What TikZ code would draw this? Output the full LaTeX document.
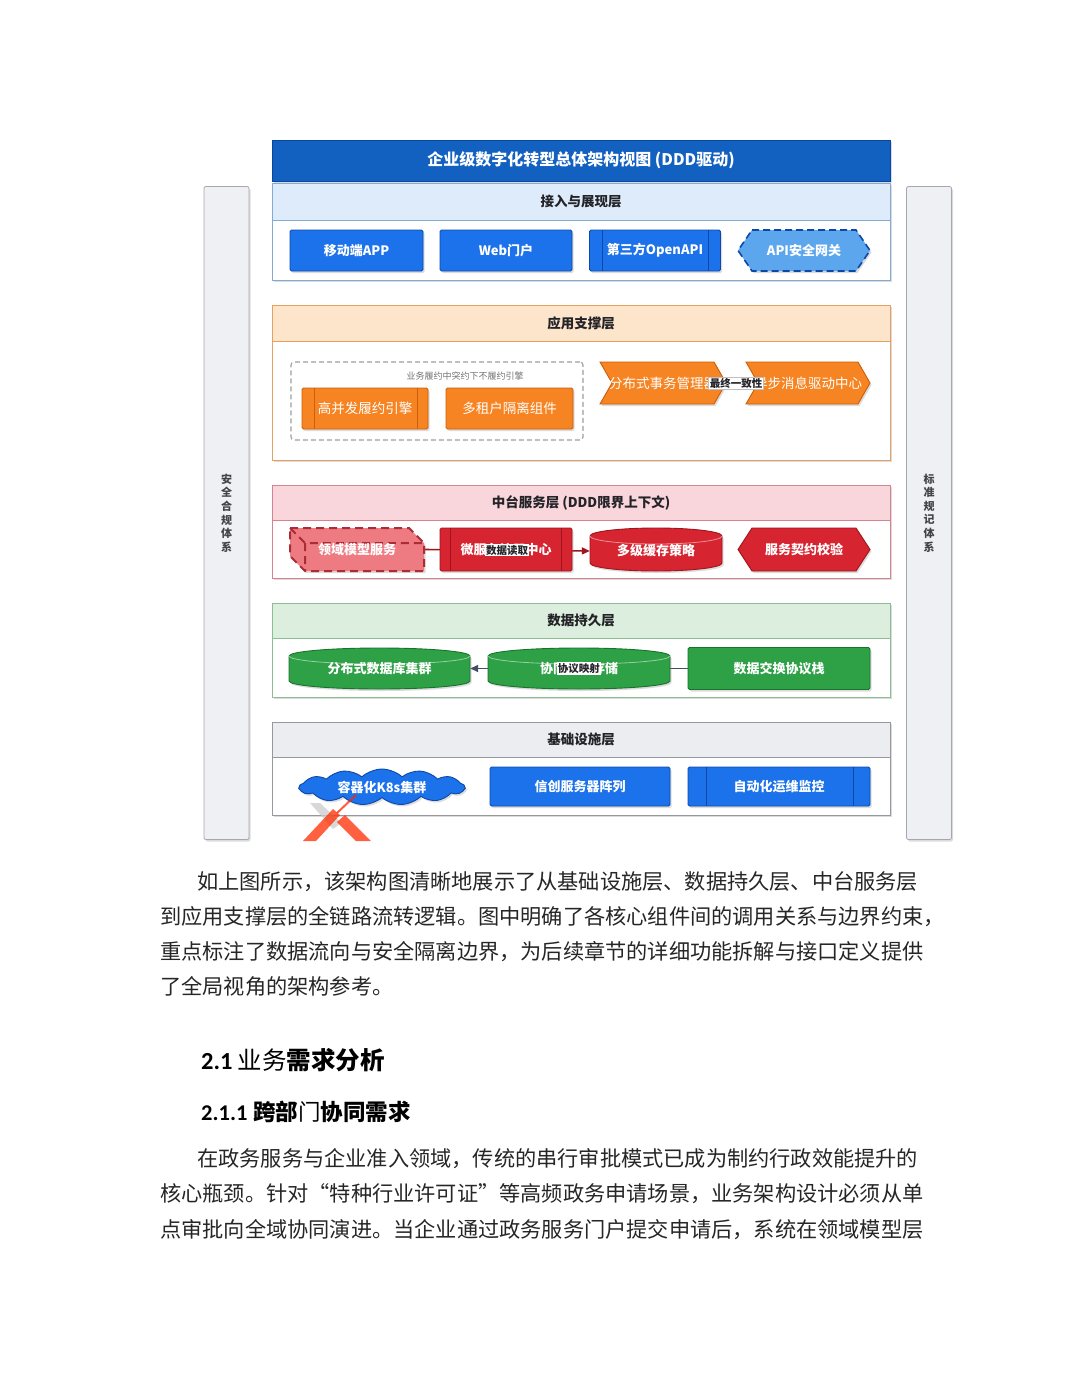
\documentclass[tikz,border=0pt]{standalone}
\usepackage{fontspec}
\setmainfont{Liberation Sans}
\newfontfamily\cjk{Noto Sans CJK SC}
\newfontfamily\song{Noto Sans CJK SC}
\newfontfamily\cali{Carlito}
\usetikzlibrary{shapes.geometric,shapes.symbols,shadows,arrows.meta,calc}
\pgfdeclarelayer{bg}
\pgfdeclarelayer{frames}
\pgfdeclarelayer{edges}
\pgfdeclarelayer{shapes}
\pgfsetlayers{bg,frames,edges,shapes,main}

\definecolor{titleblue}{RGB}{18,96,192}
\definecolor{titlebd}{RGB}{10,70,160}
\definecolor{bblue}{RGB}{28,114,234}
\definecolor{bblueD}{RGB}{12,72,170}
\definecolor{lblue}{RGB}{92,166,238}
\definecolor{hdblue}{RGB}{222,235,250}
\definecolor{bdblue}{RGB}{130,170,215}
\definecolor{borange}{RGB}{246,132,34}
\definecolor{borangeD}{RGB}{205,95,10}
\definecolor{hdorange}{RGB}{253,229,204}
\definecolor{bdorange}{RGB}{230,160,95}
\definecolor{bred}{RGB}{214,36,48}
\definecolor{bredD}{RGB}{160,20,30}
\definecolor{lred}{RGB}{238,122,130}
\definecolor{hdpink}{RGB}{248,214,220}
\definecolor{bdpink}{RGB}{215,130,145}
\definecolor{bgreen}{RGB}{46,160,70}
\definecolor{bgreenD}{RGB}{25,115,45}
\definecolor{hdgreen}{RGB}{220,239,222}
\definecolor{bdgreen}{RGB}{140,190,145}
\definecolor{hdgray}{RGB}{236,237,240}
\definecolor{bdgray}{RGB}{150,152,158}
\definecolor{sidefill}{RGB}{238,240,244}
\definecolor{sidebd}{RGB}{165,168,175}
\definecolor{txtdark}{RGB}{35,35,40}
\definecolor{edgegray}{RGB}{70,78,100}

\newcommand\hexshape[6]{\path[#6] ({#1+#5},#2) -- ({#3-#5},#2) -- (#3,{(#2+#4)/2}) -- ({#3-#5},#4) -- ({#1+#5},#4) -- (#1,{(#2+#4)/2}) -- cycle;}
\newcommand\stepshape[6]{\path[#6] (#1,#2) -- ({#3-#5},#2) -- (#3,{(#2+#4)/2}) -- ({#3-#5},#4) -- (#1,#4) -- ({#1+#5},{(#2+#4)/2}) -- cycle;}
\newcommand\cylshape[6]{%
  \pgfmathsetmacro\myrx{(#3-#1)/2}%
  \path[#6] (#1,{#2+#5}) arc[start angle=180,end angle=360,x radius=\myrx,y radius=#5] -- (#3,{#4-#5}) arc[start angle=0,end angle=180,x radius=\myrx,y radius=#5] -- cycle;
  \draw[white,opacity=0.5,line width=0.8pt] (#1,{#2+#5}) arc[start angle=180,end angle=0,x radius=\myrx,y radius=#5];}
\newcommand\cubeshape[5]{%
  \path[cubefill] (#1,#2) -- ({#3-#5},#2) -- (#3,{#2+#5}) -- (#3,#4) -- ({#1+#5},#4) -- (#1,{#4-#5}) -- cycle;
  \draw[cubeline] (#1,#2) -- ({#1+#5},{#2+#5}) -- (#3,{#2+#5}) ({#1+#5},{#2+#5}) -- ({#1+#5},#4);}

\tikzset{
  shd/.style={drop shadow={shadow xshift=1.5pt,shadow yshift=-2pt,opacity=0.28}},
  boxtxt/.style={font=\cjk\bfseries\fontsize{13}{16}\selectfont,text=white,inner sep=0pt},
  boxtxtr/.style={font=\cjk\fontsize{13.5}{16}\selectfont,text=white,inner sep=0pt},
  bluebox/.style={rectangle,rounded corners=1.5pt,fill=bblue,draw=bblueD,line width=0.9pt,shd,boxtxt,minimum height=41pt},
  orangebox/.style={rectangle,rounded corners=1.5pt,fill=borange,draw=borangeD,line width=0.9pt,shd,boxtxtr,minimum height=41pt},
  redbox/.style={rectangle,rounded corners=1.5pt,fill=bred,draw=bredD,line width=0.9pt,shd,boxtxt,minimum height=43pt},
  greenbox/.style={rectangle,rounded corners=1.5pt,fill=bgreen,draw=bgreenD,line width=0.9pt,shd,boxtxt,minimum height=42pt},
  layerbody/.style={draw=#1,line width=0.9pt,fill=white,shd},
  layerhead/.style={draw=#1,line width=0.9pt,minimum width=618pt,inner sep=0pt,font=\cjk\bfseries\fontsize{13.5}{16}\selectfont,text=txtdark},
  titlebar/.style={fill=titleblue,draw=titlebd,line width=1pt,minimum width=618pt,minimum height=41pt,inner sep=0pt,font=\cjk\bfseries\fontsize{16}{19}\selectfont,text=white,shd},
  sidebar/.style={fill=sidefill,draw=sidebd,line width=0.8pt,rounded corners=2pt,shd,minimum width=45pt,minimum height=653pt,inner sep=0pt,font=\cjk\bfseries\fontsize{11}{13.6}\selectfont,text=txtdark!85,align=center},
  apihex/.style={fill=lblue,draw=bblueD,line width=1.6pt,dash pattern=on 7pt off 4pt,shd},
  orgstep/.style={fill=borange,draw=borangeD,line width=0.9pt,shd},
  redhex/.style={fill=bred,draw=bredD,line width=0.9pt,shd},
  redcyl/.style={fill=bred,draw=bredD,line width=0.9pt,shd},
  greencyl/.style={fill=bgreen,draw=bgreenD,line width=0.9pt,shd},
  cubefill/.style={fill=lred,draw=bredD!90,line width=2pt,dash pattern=on 8pt off 5pt,shd},
  cubeline/.style={draw=bredD!90,line width=2pt,dash pattern=on 8pt off 5pt},
  grp/.style={draw=gray!75,dash pattern=on 5pt off 3pt,line width=1.1pt,rounded corners=3pt,inner sep=0pt},
  elabel/.style={fill=white,inner sep=1.2pt,font=\cjk\bfseries\fontsize{10.5}{12}\selectfont,text=txtdark},
  edgeo/.style={draw=borangeD,line width=1.4pt,-{Triangle[length=7pt,width=6pt]}},
  edger/.style={draw=bredD,line width=1.6pt,-{Triangle[length=8pt,width=7pt]}},
  edgeg/.style={draw=edgegray,line width=1.6pt,-{Triangle[length=8pt,width=7pt]}},
  para/.style={font=\song\fontsize{21.2}{25}\selectfont,inner sep=0pt,anchor=base west,text=black!85},
}

\begin{document}
\begin{tikzpicture}[x=1pt,y=-1pt]
\useasboundingbox (0,0) rectangle (1080,1397);
\begin{pgfonlayer}{bg}
  \fill[white] (0,0) rectangle (1080,1397);
\end{pgfonlayer}

% side bars
\node[sidebar] (lbar) at (226.5,513) {安\\全\\合\\规\\体\\系};
\node[sidebar] (rbar) at (929,513) {标\\准\\规\\记\\体\\系};

% title
\node[titlebar] (ttl) at (581,160.5) {企业级数字化转型总体架构视图 (DDD驱动)};

% ---------- layer frames ----------
\begin{pgfonlayer}{frames}
  \path[layerbody=bdblue] (272,183) rectangle (890,280);
  \node[layerhead=bdblue,fill=hdblue,minimum height=37pt] (L1) at (581,201.5) {接入与展现层};
  \path[layerbody=bdorange] (272,305) rectangle (890,460);
  \node[layerhead=bdorange,fill=hdorange,minimum height=36pt] (L2) at (581,323) {应用支撑层};
  \path[layerbody=bdpink] (272,485) rectangle (890,578);
  \node[layerhead=bdpink,fill=hdpink,minimum height=35pt] (L3) at (581,502.5) {中台服务层 (DDD限界上下文)};
  \path[layerbody=bdgreen] (272,603) rectangle (890,697);
  \node[layerhead=bdgreen,fill=hdgreen,minimum height=35pt] (L4) at (581,620.5) {数据持久层};
  \path[layerbody=bdgray] (272,722) rectangle (890,815);
  \node[layerhead=bdgray,fill=hdgray,minimum height=35pt] (L5) at (581,739.5) {基础设施层};
\end{pgfonlayer}

% ---------- layer 1 ----------
\node[bluebox,minimum width=133pt] (app) at (356.5,250.5) {移动端APP};
\node[bluebox,minimum width=132pt] (web) at (506,250.5) {Web门户};
\node[bluebox,minimum width=131pt] (oapi) at (655,250.5) {第三方OpenAPI};
\draw[bblueD,line width=0.9pt] ([xshift=13pt]oapi.north west) -- ([xshift=13pt]oapi.south west)
  ([xshift=-13pt]oapi.north east) -- ([xshift=-13pt]oapi.south east);
\begin{pgfonlayer}{shapes}
  \hexshape{738}{230}{870}{271}{14}{apihex}
\end{pgfonlayer}
\node[boxtxt,minimum width=132pt,minimum height=41pt] (gw) at (804,250.5) {API安全网关};

% ---------- layer 2 ----------
\node[grp,minimum width=292pt,minimum height=78pt] (grp) at (437,401) {};
\node[font=\cjk\fontsize{9}{10}\selectfont,text=gray!90!black,inner sep=0pt] (grplbl) at (465,376) {业务履约中突约下不履约引擎};
\node[orangebox,minimum width=126pt] (eng) at (365,408.5) {高并发履约引擎};
\draw[borangeD,line width=0.9pt] ([xshift=13pt]eng.north west) -- ([xshift=13pt]eng.south west)
  ([xshift=-11pt]eng.north east) -- ([xshift=-11pt]eng.south east);
\node[orangebox,minimum width=127pt] (tenant) at (509.5,408.5) {多租户隔离组件};
\begin{pgfonlayer}{shapes}
  \stepshape{600}{362}{726}{404}{12}{orgstep}
  \stepshape{746}{362}{870}{404}{12}{orgstep}
\end{pgfonlayer}
\node[boxtxtr,minimum width=126pt,minimum height=42pt] (tx) at (663,383) {分布式事务管理器};
\node[boxtxtr,minimum width=124pt,minimum height=42pt] (mq) at (808,383) {异步消息驱动中心};
\begin{pgfonlayer}{edges}
  \draw[edgeo] (tx.east) -- (mq.west);
\end{pgfonlayer}
\node[elabel,draw=gray!50,line width=0.4pt] (lbl1) at ($(tx.east)!0.5!(mq.west)$) {最终一致性};

% ---------- layer 3 ----------
\begin{pgfonlayer}{shapes}
  \cubeshape{290}{528}{424}{571}{15}
  \cylshape{590}{528}{722}{571}{8}{redcyl}
  \hexshape{738}{528}{870}{571}{14}{redhex}
\end{pgfonlayer}
\node[boxtxt,minimum width=134pt,minimum height=43pt] (dm) at (357,549.5) {领域模型服务};
\node[redbox,minimum width=132pt] (reg) at (506,549.5) {微服务注册中心};
\draw[bredD,line width=0.9pt] ([xshift=11pt]reg.north west) -- ([xshift=11pt]reg.south west)
  ([xshift=-11pt]reg.north east) -- ([xshift=-11pt]reg.south east);
\node[boxtxt,minimum width=132pt,minimum height=43pt] (cache) at (656,551) {多级缓存策略};
\node[boxtxt,minimum width=132pt,minimum height=43pt] (chk) at (804,549.5) {服务契约校验};
\begin{pgfonlayer}{edges}
  \draw[edger] (dm.east) -- (cache.west);
\end{pgfonlayer}
\node[elabel] (lbl2) at ($(dm.east)!0.5!(cache.west)$) {数据读取};

% ---------- layer 4 ----------
\begin{pgfonlayer}{shapes}
  \cylshape{289}{648}{470}{689}{8}{greencyl}
  \cylshape{488}{648}{670}{689}{8}{greencyl}
\end{pgfonlayer}
\node[boxtxt,minimum width=181pt,minimum height=41pt] (db) at (379.5,668.5) {分布式数据库集群};
\node[boxtxt,minimum width=182pt,minimum height=41pt] (pstore) at (579,668.5) {协同数据存储};
\node[greenbox,minimum width=182pt] (exch) at (779,668.5) {数据交换协议栈};
\begin{pgfonlayer}{edges}
  \draw[edgeg] (exch.west) -- (db.east);
\end{pgfonlayer}
\node[elabel] (lbl3) at ($(exch.west)!0.5!(db.east)$) {协议映射};

% ---------- layer 5 ----------
\node[cloud,cloud puffs=13,cloud puff arc=85,cloud ignores aspect,minimum width=165pt,minimum height=36pt,fill=bblue,draw=bblueD,line width=0.9pt,boxtxt,shd] (k8s) at (382,787) {容器化K8s集群};
\node[bluebox,minimum width=180pt,minimum height=39pt] (srv) at (580,786.5) {信创服务器阵列};
\node[bluebox,minimum width=182pt,minimum height=39pt] (ops) at (779,786.5) {自动化运维监控};
\draw[bblueD,line width=0.9pt] ([xshift=19pt]ops.north west) -- ([xshift=19pt]ops.south west)
  ([xshift=-17pt]ops.north east) -- ([xshift=-17pt]ops.south east);

% X mark
\fill[gray!40,opacity=0.75] (310,803) -- (320,803) -- (341,823) -- (333,829) -- cycle;
\fill[red!65!orange,opacity=0.75] (303,841) -- (316,841) -- (340,815) -- (333,809) -- cycle;
\fill[red!65!orange,opacity=0.75] (356,841) -- (371,841) -- (345,815) -- (337,822) -- cycle;
\draw[red!70!orange,line width=2pt,opacity=0.75] (337,813) -- (356,795);

% ---------- text below ----------
\node[para] (p1a) at (197,889) {如上图所示，该架构图清晰地展示了从基础设施层、数据持久层、中台服务层};
\node[para] (p1b) at (160,924) {到应用支撑层的全链路流转逻辑。图中明确了各核心组件间的调用关系与边界约束，};
\node[para] (p1c) at (160,959) {重点标注了数据流向与安全隔离边界，为后续章节的详细功能拆解与接口定义提供};
\node[para] (p1d) at (160,994) {了全局视角的架构参考。};

\node[inner sep=0pt,anchor=base west] (h1) at (201,1069) {{\cali\bfseries\fontsize{24.5}{28}\selectfont 2.1}\hspace{5pt}{\cjk\fontsize{24.5}{28}\selectfont 业务}{\cjk\bfseries\fontsize{24.5}{28}\selectfont 需求分析}};
\node[inner sep=0pt,anchor=base west] (h2) at (201,1120) {{\cali\bfseries\fontsize{22.5}{26}\selectfont 2.1.1}\hspace{6pt}{\cjk\bfseries\fontsize{22.5}{26}\selectfont 跨部}{\cjk\fontsize{22.5}{26}\selectfont 门}{\cjk\bfseries\fontsize{22.5}{26}\selectfont 协同需求}};

\node[para] (p2a) at (197,1166) {在政务服务与企业准入领域，传统的串行审批模式已成为制约行政效能提升的};
\node[para] (p2b) at (160,1201) {核心瓶颈。针对“特种行业许可证”等高频政务申请场景，业务架构设计必须从单};
\node[para] (p2c) at (160,1237) {点审批向全域协同演进。当企业通过政务服务门户提交申请后，系统在领域模型层};
\end{tikzpicture}
\end{document}
